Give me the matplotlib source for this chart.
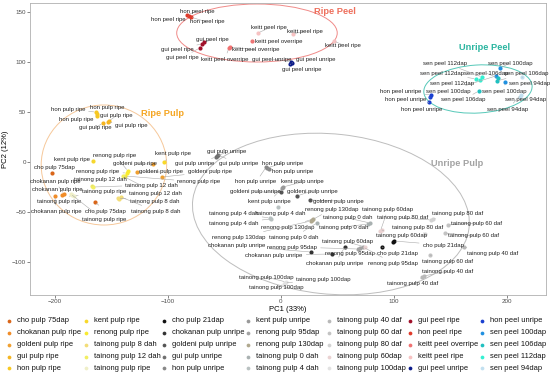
import matplotlib
matplotlib.use('Agg')
import matplotlib.pyplot as plt
from matplotlib.patches import Ellipse

plt.rcParams['font.family'] = ['Liberation Sans', 'DejaVu Sans']

# legend order (column-wise, 7 columns x 5 rows)
samples = [
    'cho pulp 75dap', 'chokanan pulp ripe', 'goldeni pulp ripe', 'gui pulp ripe', 'hon pulp ripe',
    'kent pulp ripe', 'renong pulp ripe', 'tainong pulp 8 dah', 'tainong pulp 12 dah', 'tainong pulp ripe',
    'cho pulp 21dap', 'chokanan pulp unripe', 'goldeni pulp unripe', 'gui pulp unripe', 'hon pulp unripe',
    'kent pulp unripe', 'renong pulp 95dap', 'renong pulp 130dap', 'tainong pulp 0 dah', 'tainong pulp 4 dah',
    'tainong pulp 40 daf', 'tainong pulp 60 daf', 'tainong pulp 80 daf', 'tainong pulp 60dap', 'tainong pulp 100dap',
    'gui peel ripe', 'hon peel ripe', 'keitt peel overripe', 'keitt peel ripe', 'gui peel unripe',
    'hon peel unripe', 'sen peel 100dap', 'sen peel 106dap', 'sen peel 112dap', 'sen peel 94dap',
]
sample_colors = [
    '#D9661A', '#F08C28', '#F0A030', '#F5B521', '#F8C820',
    '#F8D82A', '#F8EA30', '#F3DD78', '#F2EE62', '#EFEFC8',
    '#111111', '#333333', '#555555', '#707070', '#888888',
    '#999999', '#A3A3A3', '#B0A88E', '#A9B1B1', '#B9C1C1',
    '#B8B8B8', '#C3C3C3', '#D2D2D2', '#EAD2D2', '#E2E2E2',
    '#A0102A', '#E03A2A', '#F07272', '#F7C2C2', '#0A1A8A',
    '#1A40D0', '#2090E0', '#20C0C0', '#34F0D2', '#C2E0F0',
]

# PCA scores
pt_sample = [
    'hon peel ripe', 'hon peel ripe', 'hon peel ripe',
    'gui peel ripe', 'gui peel ripe', 'gui peel ripe',
    'keitt peel overripe', 'keitt peel overripe', 'keitt peel overripe',
    'keitt peel ripe', 'keitt peel ripe', 'keitt peel ripe',
    'gui peel unripe', 'gui peel unripe', 'gui peel unripe',
    'sen peel 100dap', 'sen peel 100dap', 'sen peel 100dap',
    'sen peel 106dap', 'sen peel 106dap', 'sen peel 106dap',
    'sen peel 112dap', 'sen peel 112dap', 'sen peel 112dap',
    'sen peel 94dap', 'sen peel 94dap', 'sen peel 94dap',
    'hon peel unripe', 'hon peel unripe', 'hon peel unripe',
    'hon pulp ripe', 'hon pulp ripe', 'hon pulp ripe',
    'gui pulp ripe', 'gui pulp ripe', 'gui pulp ripe',
    'kent pulp ripe', 'kent pulp ripe',
    'renong pulp ripe', 'renong pulp ripe', 'renong pulp ripe',
    'goldeni pulp ripe', 'goldeni pulp ripe', 'goldeni pulp ripe',
    'cho pulp 75dap', 'cho pulp 75dap',
    'chokanan pulp ripe', 'chokanan pulp ripe', 'chokanan pulp ripe',
    'tainong pulp ripe', 'tainong pulp ripe', 'tainong pulp ripe',
    'tainong pulp 12 dah', 'tainong pulp 12 dah', 'tainong pulp 12 dah',
    'tainong pulp 8 dah', 'tainong pulp 8 dah', 'tainong pulp 8 dah',
    'gui pulp unripe', 'gui pulp unripe', 'gui pulp unripe',
    'hon pulp unripe', 'hon pulp unripe', 'hon pulp unripe',
    'kent pulp unripe', 'kent pulp unripe',
    'goldeni pulp unripe', 'goldeni pulp unripe', 'goldeni pulp unripe',
    'tainong pulp 4 dah', 'tainong pulp 4 dah', 'tainong pulp 4 dah',
    'renong pulp 130dap', 'renong pulp 130dap', 'renong pulp 130dap',
    'tainong pulp 0 dah', 'tainong pulp 0 dah', 'tainong pulp 0 dah',
    'tainong pulp 60dap', 'tainong pulp 60dap', 'tainong pulp 60dap',
    'tainong pulp 80 daf', 'tainong pulp 80 daf', 'tainong pulp 80 daf',
    'tainong pulp 60 daf', 'tainong pulp 60 daf', 'tainong pulp 60 daf',
    'cho pulp 21dap', 'cho pulp 21dap', 'cho pulp 21dap',
    'tainong pulp 40 daf', 'tainong pulp 40 daf', 'tainong pulp 40 daf',
    'chokanan pulp unripe', 'chokanan pulp unripe', 'chokanan pulp unripe',
    'renong pulp 95dap', 'renong pulp 95dap', 'renong pulp 95dap',
    'tainong pulp 100dap', 'tainong pulp 100dap', 'tainong pulp 100dap',
]
pt_pc1 = [
    -83, -81.5, -80,
    -68, -70, -72,
    -45, -46, -25.7,
    -20.4, 10.6, 46.9,
    8.8, 9.7, 8,
    193.8, 198.2, 190,
    192, 191, 175,
    172.6, 178, 176,
    213.3, 211.5, 212,
    132.7, 131.9, 131,
    -163.7, -163, -162.8,
    -152.2, -153, -157.5,
    -166.4, -103.5,
    -135.4, -136.3, -138,
    -113.3, -127.4, -105.3,
    -202.7, -164.6,
    -192, -193.8, -200,
    -185, -183, -186,
    -167.3, -166, -140,
    -144, -141.6, -143,
    -56.6, -57.5, -55.7,
    -12.4, -11, -13,
    1.8, 1,
    0, 14.2, 25.7,
    -2.7, -9.7, -9,
    27.4, 28.5, 26.5,
    31.9, 78.8, 77,
    89.4, 74.3, 88,
    134.5, 127.4, 133,
    147.8, 145, 131.9,
    100, 89.4, 99,
    162, 126.5, 125,
    26.5, 45, 56.6,
    70, 72.6, 68,
    3.5, 4.5, 2.5,
]
pt_pc2 = [
    147, 146, 145,
    120, 118, 114,
    115, 114, 121,
    129, 128, 121,
    100, 99, 98,
    94, 80, 86,
    84, 81, 71,
    83, 85, 82,
    85, 65, 67,
    67, 65, 60,
    50, 48, 46,
    41, 40, 39,
    1, 0,
    -9, -11, -14,
    -2, -10, -15,
    -11, -40,
    -32, -33, -34,
    -33, -34, -32,
    -24, -25, -14,
    -36, -35, -37,
    6, 5, 7,
    -6, -7, -5,
    -25, -26,
    -30, -34, -38,
    -45, -56, -57,
    -58, -57, -59,
    -61, -61, -62,
    -68, -85, -69,
    -57, -72, -58,
    -63, -71, -93,
    -79, -85, -80,
    -85, -114, -115,
    -90, -92, -85,
    -86, -85, -87,
    -121, -120, -122,
]

# repelled label positions (same order as the points, None = no label)
label_pos = [
    (-74, 151), (-100, 142), (-65.5, 140),
    (-61, 122), (-92, 113), (-87.6, 104),
    (-22, 112), (-49.6, 103), (-1.8, 121),
    (-10.6, 134), (21.2, 131), (54.9, 117),
    (-8, 103), (31, 102), (18.6, 92),
    (202.7, 99), (198, 71), (148, 71),
    (181.4, 89), (216.8, 89), (161, 62),
    (142.7, 89), (145, 99), (151, 79),
    (220, 79), (216, 62), (200.9, 53),
    (106, 71), (110, 62), (124.8, 53),
    (-188.5, 52), (-154, 55), (-181, 43),
    (-146, 46), (-132, 37), (-164.6, 34),
    (-185, 2), (-95.6, 8),
    (-147, 7), (-162, -10), (-72.6, -20),
    (-129, -2), (-106, -10), (-63, -10),
    (-200, -6), (-155, -49),
    (-200, -19), (-198, -28), (-199, -49),
    (-196, -40), (-156.6, -30), (-156.6, -58),
    (-159.3, -18), (-114.2, -23), (-110.6, -31),
    (-112, -40), (-111, -49), None,
    (-47.8, 10), (-76, -2), (-37, -2),
    (1.8, -1), (10, -10), (-22, -20),
    (18.6, -20), (-10.6, -40),
    (-23, -30), (27.4, -29), (50.4, -39),
    (0, -51), (-41.6, -51), (-41.6, -61),
    (45, -47), (6, -65), (-37, -75),
    (11.5, -75), (59, -56), (55.5, -65),
    (107, -74), (59, -80), (94.7, -47),
    (156.6, -51), (121, -65), (108, -56),
    (172.6, -61), (170, -74), (147.8, -99),
    (143.4, -83), (103.5, -91), None,
    (187.6, -91), (147.8, -109), (116.8, -122),
    (-39, -84), (-6, -93), (47.8, -101),
    (61, -92), (99, -101), (10, -85),
    (37.5, -117), (-13, -115), (-4.4, -126),
]

# group ellipses (stat_ellipse outlines) and their titles
groups = ['Ripe Peel', 'Unripe Peel', 'Ripe Pulp', 'Unripe Pulp']
group_colors = ['#EE6F5C', '#2BB5A0', '#F5A623', '#A3A3A3']
ellipse_colors = ['#F08A88', '#55C8B8', '#F6C89A', '#BDBDBD']
ell_cx = [-21.2, 174.3, -156.6, 44.2]
ell_cy = [129, 73, -3, -52]
ell_w = [142, 96, 111, 246]
ell_h = [58, 48, 120, 160]
ell_angle = [0, 4, 0, -7]
title_x = [47.8, 180.5, -104.4, 155.8]
title_y = [150, 114, 49, -2]

fig = plt.figure(figsize=(5.5, 3.77), dpi=100)

# legend drawn on a pixel-coordinate overlay, 7 columns x 5 rows
lax = fig.add_axes([0, 0, 1, 1])
lax.set_xlim(0, 550)
lax.set_ylim(377, 0)
lax.axis('off')
col_x = [9, 86, 164, 248, 329, 410, 482]
row_y = [321, 333, 345, 357, 368]
for i, (name, c) in enumerate(zip(samples, sample_colors)):
    cx = col_x[i // 5]
    ry = row_y[i % 5]
    lax.plot(cx, ry, 'o', ms=2.7, color=c, mew=0)
    lax.text(cx + 8, ry, name, fontsize=5.4, va='center', ha='left', color='#111111')

ax = fig.add_axes([30 / 550, 82 / 377, 516 / 550, 292 / 377])
ax.set_xlim(-222, 234.5)
ax.set_ylim(-133, 159)

for i in range(len(groups)):
    e = Ellipse((ell_cx[i], ell_cy[i]), ell_w[i], ell_h[i], angle=ell_angle[i],
                fill=False, edgecolor=ellipse_colors[i], lw=0.7, zorder=1)
    ax.add_patch(e)
    ax.text(title_x[i], title_y[i], groups[i], color=group_colors[i], fontsize=6.7,
            fontweight='bold', ha='center', va='center', zorder=5)

color_of = dict(zip(samples, sample_colors))
for name in samples:
    xs = [x for s, x in zip(pt_sample, pt_pc1) if s == name]
    ys = [y for s, y in zip(pt_sample, pt_pc2) if s == name]
    ax.scatter(xs, ys, s=9, color=color_of[name], linewidths=0, zorder=3)

for s, x, y, lp in zip(pt_sample, pt_pc1, pt_pc2, label_pos):
    if lp is None:
        continue
    dist = ((lp[0] - x) * 1.13) ** 2 + (lp[1] - y) ** 2
    arrow = None
    if dist > 8 ** 2:
        arrow = dict(arrowstyle='-', color='#AAAAAA', lw=0.4, shrinkA=0.5, shrinkB=1.5)
    ax.annotate(s, xy=(x, y), xytext=lp, fontsize=4.3, ha='center', va='center',
                color='#222222', arrowprops=arrow, zorder=4)

ax.set_xticks([-200, -100, 0, 100, 200])
ax.set_yticks([-100, -50, 0, 50, 100, 150])
ax.tick_params(length=2, width=0.5, color='#555555', labelsize=4.5,
               labelcolor='#4D4D4D', pad=1)
for sp in ax.spines.values():
    sp.set_color('#B0B0B0')
    sp.set_linewidth(0.6)
ax.set_xlabel('PC1 (33%)', fontsize=5.5, labelpad=1.5)
ax.set_ylabel('PC2 (12%)', fontsize=5.5, labelpad=2)

fig.savefig('out.png', dpi=100)
